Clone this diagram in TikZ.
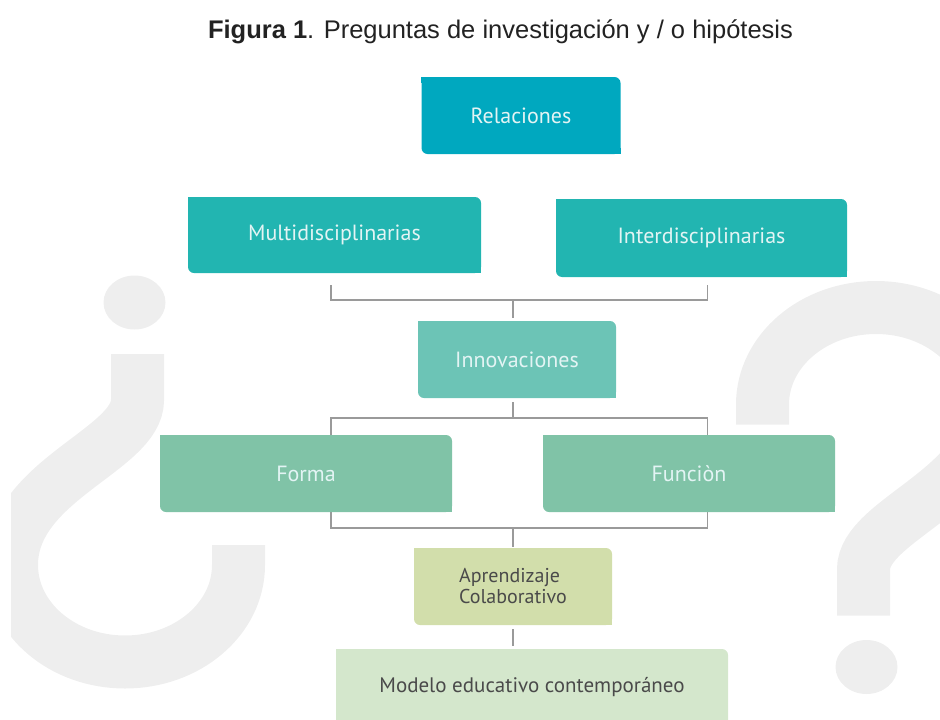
\documentclass[tikz,border=0pt]{standalone}
\usepackage{fontspec}
\setmainfont{PT Sans}
\newfontfamily\titlefont{Liberation Sans}
\definecolor{relc}{HTML}{00A8BF}
\definecolor{multic}{HTML}{22B5B1}
\definecolor{innovc}{HTML}{6CC4B6}
\definecolor{formac}{HTML}{80C3A7}
\definecolor{aprenc}{HTML}{D2DEAB}
\definecolor{modeloc}{HTML}{D4E7CC}
\definecolor{boxtext}{HTML}{E3F4F4}
\definecolor{darktext}{HTML}{4A4A4A}
\definecolor{titlec}{HTML}{222222}
\definecolor{linec}{HTML}{9A9A9A}
\definecolor{markc}{HTML}{EEEEEE}
\tikzset{
  box/.style={rounded corners=6pt, inner sep=0pt, minimum height=77pt,
    font=\fontsize{22}{24}\selectfont},
  light/.style={box, text=boxtext},
  dark/.style={box, text=darktext},
  link/.style={draw=linec, line width=1.4pt},
}
\begin{document}
\begin{tikzpicture}[x=1pt,y=-1pt]
  \useasboundingbox (0,0) rectangle (940,720);
  % question marks behind
  \begin{scope}
    \clip (11,0) rectangle (940,720);
    \foreach \r in {0,180} {
      \begin{scope}[rotate around={\r:(500.5,484.75)}]
        \fill[markc] (134.5,302.5) ellipse [x radius=31, y radius=27];
        \draw[markc, line width=53pt] (137.5,354) -- (137.5,400)
          .. controls (137.5,450) and (11.5,480) .. (11.5,565)
          .. controls (11.5,618.6) and (62.3,662) .. (125,662)
          .. controls (187.7,662) and (238.5,618.6) .. (238.5,565)
          -- (238.5,545);
      \end{scope}
    }
  \end{scope}
  \node[font=\titlefont\fontsize{25.5}{28}\selectfont, text=titlec] (title) at (500.5,32)
    {\textbf{Figura 1}. Preguntas de investigación y / o hipótesis};
  \draw
    (521,115.5) node[light, fill=relc, minimum width=199pt] (rel) {Relaciones}
    (334.5,235) node[light, fill=multic, minimum width=293pt, minimum height=76pt] (multi) {Multidisciplinarias}
    (701.5,238) node[light, fill=multic, minimum width=291pt, minimum height=78pt] (inter) {Interdisciplinarias}
    (517,359.5) node[light, fill=innovc, minimum width=198pt] (innov) {Innovaciones};
  \coordinate (ml) at (331,285);
  \coordinate (mr) at (707.5,285);
  \coordinate (mm) at (513,300);
  \coordinate (fl) at (331,418);
  \coordinate (fm) at (513,418);
  \coordinate (ar) at (707.5,528);
  \coordinate (am) at (513,528);
  \begin{scope}[link]
    \draw (ml) |- (mm);
    \draw (mr) |- (mm);
    \draw[shorten >=3pt] (mm) to (mm |- innov.north);
    \draw[shorten <=4pt] (fm |- innov.south) to (fm);
    \draw (fl) rectangle (ar);
  \end{scope}
  \draw
    (306,473.5) node[light, fill=formac, minimum width=292pt] (forma) {Forma}
    (689,473.5) node[light, fill=formac, minimum width=292pt] (func) {Funciòn}
    (513,586.5) node[dark, fill=aprenc, minimum width=198pt, align=left,
      font=\fontsize{20}{21}\selectfont] (apren) {Aprendizaje\\Colaborativo}
    (532,687.5) node[dark, fill=modeloc, minimum width=392pt,
      font=\fontsize{21}{24}\selectfont] (modelo) {Modelo educativo contemporáneo};
  \begin{scope}[link]
    \draw[shorten >=1pt] (am) to (apren.north);
    \draw[shorten <=4pt, shorten >=3pt] (apren.south) to (apren.south |- modelo.north);
  \end{scope}
  % square corners
  \foreach \n/\c in {rel/relc, multi/multic, inter/multic, innov/innovc,
    forma/formac, func/formac, apren/aprenc, modelo/modeloc} {
    \fill[\c] (\n.north west) rectangle +(6pt,-6pt);
    \fill[\c] (\n.south east) rectangle +(-6pt,6pt);
  }
\end{tikzpicture}
\end{document}
